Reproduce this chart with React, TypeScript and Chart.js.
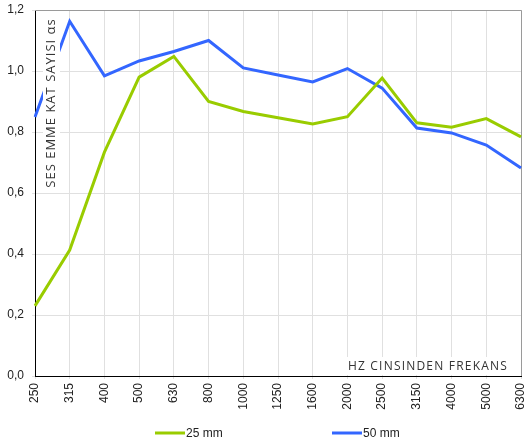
import React, { useEffect, useRef } from 'react';
import { Chart, registerables } from 'chart.js';

Chart.register(...registerables);

const frequencies = ['250', '315', '400', '500', '630', '800', '1000', '1250', '1600', '2000', '2500', '3150', '4000', '5000', '6300'];
const series25mm = [0.23, 0.413, 0.734, 0.98, 1.048, 0.9, 0.867, 0.847, 0.826, 0.85, 0.977, 0.83, 0.816, 0.844, 0.784];
const series50mm = [0.849, 1.163, 0.984, 1.033, 1.064, 1.1, 1.01, 0.987, 0.964, 1.008, 0.944, 0.813, 0.797, 0.757, 0.682];
const seriesLabels = ['25 mm', '50 mm'];
const seriesColors = ['#99cc00', '#3366ff'];
const yTitle = 'SES EMME KAT SAYISI αs';
const xTitle = 'HZ CINSINDEN FREKANS';

const tickFont = { family: '"Liberation Sans", Arial, sans-serif', size: 12 };

const decorPlugin = {
  id: 'decor',
  beforeDatasetsDraw(chart: any) {
    const { ctx, chartArea: a } = chart;
    ctx.save();
    ctx.strokeStyle = '#9a9a9a';
    ctx.lineWidth = 1;
    ctx.beginPath();
    ctx.moveTo(a.left, a.top + 0.5);
    ctx.lineTo(a.right + 0.5, a.top + 0.5);
    ctx.lineTo(a.right + 0.5, a.bottom);
    ctx.stroke();
    ctx.restore();
  },
  afterDatasetsDraw(chart: any) {
    const { ctx, chartArea: a } = chart;
    ctx.save();
    (ctx as any).letterSpacing = '1px';
    ctx.fillStyle = '#ffffff';
    // y title box (inside plot, rotated)
    const yc = a.top + 93;
    const xc = a.left + 16;
    ctx.fillRect(xc - 8, a.top + 4, 17, 178);
    ctx.fillStyle = '#333333';
    ctx.font = '13px "Open Sans", "DejaVu Sans", sans-serif';
    ctx.save();
    ctx.translate(xc, yc);
    ctx.rotate(-Math.PI / 2);
    ctx.textAlign = 'center';
    ctx.textBaseline = 'middle';
    ctx.fillText(yTitle, 0, 0);
    ctx.restore();
    // x title box
    (ctx as any).letterSpacing = '1.2px';
    ctx.font = '12px "Open Sans", "DejaVu Sans", sans-serif';
    ctx.fillStyle = '#ffffff';
    ctx.fillRect(a.right - 181, a.bottom - 19, 175, 18);
    ctx.fillStyle = '#333333';
    ctx.textAlign = 'right';
    ctx.textBaseline = 'alphabetic';
    ctx.fillText(xTitle, a.right - 13, a.bottom - 6);
    ctx.restore();
  },
  afterDraw(chart: any) {
    const { ctx } = chart;
    const starts = [155, 332];
    const y = 433;
    ctx.save();
    chart.data.datasets.forEach((ds: any, i: number) => {
      const x = starts[i];
      ctx.strokeStyle = ds.borderColor;
      ctx.lineWidth = 3;
      ctx.beginPath();
      ctx.moveTo(x, y);
      ctx.lineTo(x + 30, y);
      ctx.stroke();
      ctx.fillStyle = '#222222';
      ctx.font = '12px "Liberation Sans", Arial, sans-serif';
      ctx.textAlign = 'left';
      ctx.textBaseline = 'middle';
      ctx.fillText(ds.label, x + 31, y + 1);
    });
    ctx.restore();
  },
};

export default function App() {
  const ref = useRef<HTMLCanvasElement | null>(null);
  useEffect(() => {
    if (!ref.current) return;
    const chart = new Chart(ref.current, {
      type: 'line',
      data: {
        labels: frequencies,
        datasets: [
          { label: seriesLabels[0], data: series25mm, borderColor: seriesColors[0], backgroundColor: seriesColors[0], borderWidth: 3, pointRadius: 0, tension: 0 },
          { label: seriesLabels[1], data: series50mm, borderColor: seriesColors[1], backgroundColor: seriesColors[1], borderWidth: 3, pointRadius: 0, tension: 0 },
        ],
      },
      options: {
        responsive: false,
        animation: false,
        layout: { padding: { top: 10, right: 4, bottom: 0, left: 0 } },
        plugins: { legend: { display: false }, tooltip: { enabled: false } },
        scales: {
          x: {
            grid: { color: '#e0e0e0', drawTicks: true, tickLength: 3 },
            border: { color: '#000000', width: 1 },
            ticks: { font: tickFont, color: '#222222', maxRotation: 90, minRotation: 90, autoSkip: false, padding: 4 },
            afterFit: (s: any) => { s.height = 65; s.paddingLeft = 0; s.paddingRight = 0; },
          },
          y: {
            min: 0,
            max: 1.2,
            grid: { color: '#e0e0e0', drawTicks: true, tickLength: 3 },
            border: { color: '#000000', width: 1 },
            ticks: {
              stepSize: 0.2,
              font: tickFont,
              color: '#222222',
              padding: 8,
              callback: (v: any) => Number(v).toFixed(1).replace('.', ','),
            },
            afterFit: (s: any) => { s.width = 35; s.paddingTop = 0; s.paddingBottom = 0; },
          },
        },
      },
      plugins: [decorPlugin],
    });
    return () => chart.destroy();
  }, []);
  return (
    <div style={{ position: 'absolute', left: 0, top: 0, width: 525, height: 441, background: '#fff' }}>
      <canvas ref={ref} width={525} height={441} />
    </div>
  );
}
